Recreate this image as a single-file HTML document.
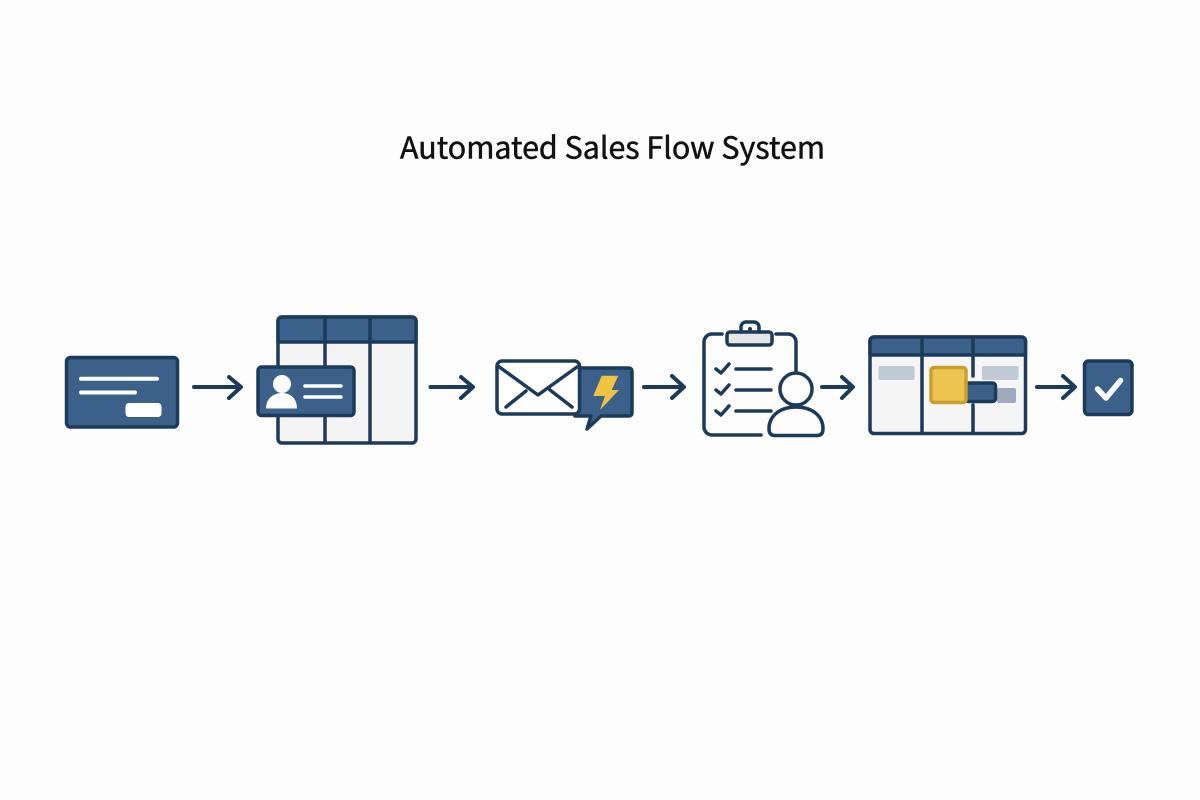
<!DOCTYPE html>
<html><head><meta charset="utf-8"><style>
html,body{margin:0;padding:0;background:#fdfdfd}
svg{display:block}
</style></head><body>
<svg width="1200" height="800" viewBox="0 0 1200 800" xmlns="http://www.w3.org/2000/svg">
<rect width="1200" height="800" fill="#fdfdfd"/>
<text x="400" y="158.500" font-family="'Noto Sans CJK SC','Liberation Sans',sans-serif" font-size="30" fill="#111" stroke="#111" stroke-width="0.500" textLength="425" lengthAdjust="spacingAndGlyphs">Automated Sales Flow System</text>
<g fill="none" stroke="#1c3b5a" stroke-width="3.500" stroke-linecap="round" stroke-linejoin="round">
<!-- card 1 -->
<rect x="66.500" y="357.500" width="111" height="69.500" rx="4" fill="#3b6089"/>
<path d="M81 378.700H157M81 392.500H135" stroke="#fff" stroke-width="4"/>
<rect x="125.500" y="403" width="36" height="14" rx="3.500" fill="#fff" stroke="none"/>
<!-- arrows -->
<path d="M194 387H240M229 377L241 387L229 398M430.500 387H472M461 377L473 387L461 398M644 387H683M672 376L684 387L672 398M822 387H852M842 377L853 387L842 398M1037 387H1074M1063 376L1075 387L1063 398" stroke-width="4"/>
<!-- table -->
<rect x="278" y="317" width="138" height="126" rx="4" fill="#f4f4f4"/>
<path d="M278 342V321a4 4 0 0 1 4-4H412a4 4 0 0 1 4 4V342Z" fill="#3b6089"/>
<path d="M325 317V442M370 317V442" />
<!-- id card -->
<rect x="258" y="367" width="96" height="48.500" rx="3.500" fill="#3b6089"/>
<circle cx="282" cy="384" r="9" fill="#fff" stroke="none"/>
<path d="M266 408.500C266 398 274 393 282 393C290 393 297 398 297 408.500Z" fill="#fdfdfd" stroke="none"/>
<path d="M305 386H341M305 397H341" stroke="#fff"/>
<!-- bubble -->
<path d="M575 368H629a3 3 0 0 1 3 3V413a3 3 0 0 1-3 3H601L587 429L591 416H575Z" fill="#3b6089"/>
<polygon points="601.700,375.700 618.300,375.700 611.700,390 619,390 600,410 605,396 593.300,396" fill="#efc244" stroke="none"/>
<!-- envelope -->
<rect x="497" y="361" width="82.500" height="53" rx="5" fill="#fff"/>
<path d="M498 366L538 395L577 367M506 407L526 391M572 407L550 390"/>
<!-- clipboard -->
<path d="M722 334H712a8 8 0 0 0-8 8V427a8 8 0 0 0 8 8H761M776 334H788a8 8 0 0 1 8 8V372" />
<rect x="727" y="332" width="45" height="13" rx="3" fill="#e4e6e8"/>
<path d="M741 332V327a5 5 0 0 1 5-5H754a5 5 0 0 1 5 5V332" />
<circle cx="750" cy="329" r="2" fill="#1c3b5a" stroke="none"/>
<path d="M716 369L721 373L729 364M716 390L721 394L729 385M716 411L721 415L729 406M736 369H771M736 390H771M736 411H771"/>
<!-- person -->
<circle cx="796" cy="389" r="16" fill="#fdfdfd"/>
<path d="M775 435.500Q769 435.500 769 429C769 415 781 407 796 407C811 407 823 415 823 429Q823 435.500 817 435.500Z" fill="#fdfdfd"/>
<!-- board -->
<rect x="870" y="337" width="155.500" height="96.500" rx="4" fill="#f5f5f5"/>
<path d="M870 355V341a4 4 0 0 1 4-4H1021.500a4 4 0 0 1 4 4V355Z" fill="#3b6089"/>
<path d="M922 337V433M973 337V376M973 405V433"/>
<rect x="878.500" y="366" width="36" height="14" rx="2" fill="#c0cad6" stroke="none"/>
<rect x="982" y="366" width="36.500" height="14" rx="2" fill="#c0cad6" stroke="none"/>
<rect x="997" y="388" width="19" height="15" rx="2" fill="#9dabbd" stroke="none"/>
<rect x="965.500" y="383" width="30" height="18.500" rx="3" fill="#3b6089"/>
<rect x="931" y="367.500" width="35" height="35" rx="3" fill="#ecc44f" stroke="#c99f2f"/>
<!-- check box -->
<rect x="1084.500" y="361" width="47.500" height="53.500" rx="4" fill="#3b6089"/>
<path d="M1097.500 389L1106 398L1120.500 380.500" stroke="#fff" stroke-width="5.500"/>
</g>
</svg>
</body></html>
